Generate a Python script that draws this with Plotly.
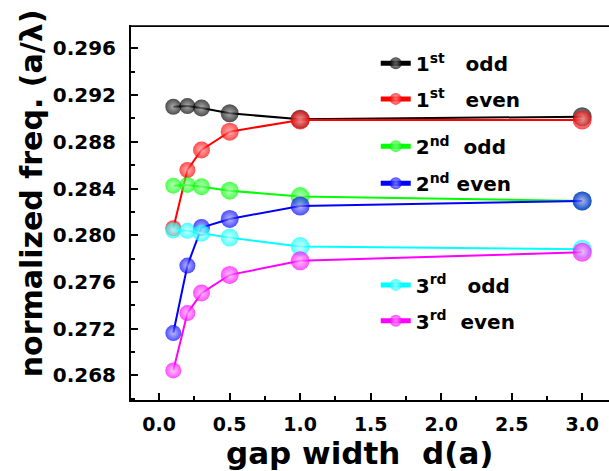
import plotly.graph_objects as go

# ---- data ----
gap_width = [0.1, 0.2, 0.3, 0.5, 1.0, 3.0]
first_odd = [0.2910, 0.29106, 0.2909, 0.29044, 0.28993, 0.29015]
first_even = [0.2806, 0.28559, 0.2873, 0.28887, 0.28987, 0.28987]
second_odd = [0.28425, 0.28431, 0.28416, 0.28382, 0.28331, 0.28294]
second_even = [0.27163, 0.27741, 0.28066, 0.2814, 0.28251, 0.28294]
third_odd = [0.2804, 0.28038, 0.28018, 0.2798, 0.27903, 0.27881]
third_even = [0.26843, 0.27334, 0.27505, 0.27661, 0.27781, 0.27855]

series_names = [
    "1<sup>st</sup>\u00a0\u00a0\u00a0odd",
    "1<sup>st</sup>\u00a0\u00a0\u00a0even",
    "2<sup>nd</sup>\u00a0\u00a0odd",
    "2<sup>nd</sup>\u00a0even",
    "3<sup>rd</sup>\u00a0\u00a0\u00a0odd",
    "3<sup>rd</sup>\u00a0\u00a0even",
]
series_values = [first_odd, first_even, second_odd, second_even, third_odd, third_even]

x_tick_values = [0.0, 0.5, 1.0, 1.5, 2.0, 2.5, 3.0]
y_tick_values = [0.268, 0.272, 0.276, 0.280, 0.284, 0.288, 0.292, 0.296]

# ---- styles ----
colors = ["#000000", "#FF0000", "#00FF00", "#0000FF", "#00FFFF", "#FF00FF"]
highlight = ["#8a8a8a", "#ff9a9a", "#a0ffa0", "#a0a0ff", "#c8ffff", "#ffb0ff"]
marker_sizes = [16, 16, 17, 18, 19, 19]
legend_y = [0.898, 0.803, 0.677, 0.578, 0.307, 0.2115]
FONT = "DejaVu Sans"

fig = go.Figure()
for i, (name, vals) in enumerate(zip(series_names, series_values)):
    lg = "legend" if i == 0 else f"legend{i+1}"
    fig.add_trace(go.Scatter(
        x=gap_width, y=vals, name=name, mode="lines+markers",
        line=dict(color=colors[i], width=2),
        marker=dict(color=colors[i], size=marker_sizes, line=dict(width=0),
                    gradient=dict(type="radial", color=highlight[i])),
        legend=lg,
    ))

legend_common = dict(
    xanchor="left", yanchor="middle", x=0.512,
    bgcolor="rgba(0,0,0,0)", borderwidth=0, itemsizing="constant",
    font=dict(family=FONT, size=20, color="black", weight="bold"),
)
layout_legends = {}
for i, ly in enumerate(legend_y):
    key = "legend" if i == 0 else f"legend{i+1}"
    layout_legends[key] = dict(legend_common, y=ly)

fig.update_layout(
    width=609, height=471,
    margin=dict(l=131, r=0, t=25, b=71),
    paper_bgcolor="white", plot_bgcolor="white",
    showlegend=True,
    font=dict(family=FONT, color="black", weight="bold"),
    **layout_legends,
)

fig.update_xaxes(
    range=[-0.2, 3.19], tickvals=x_tick_values, tickformat=".1f",
    showgrid=False, zeroline=False,
    showline=True, linecolor="black", linewidth=2, mirror=False,
    ticks="inside", ticklen=7, tickwidth=1.5, tickcolor="black",
    minor=dict(ticks="inside", ticklen=4, tickwidth=1.5, tickcolor="black", dtick=0.25, tick0=0),
    tickfont=dict(family=FONT, size=19, color="black", weight="bold"),
    ticklabelstandoff=6,
)
fig.update_yaxes(
    range=[0.2659, 0.2980], tickvals=y_tick_values, tickformat=".3f",
    showgrid=False, zeroline=False,
    showline=True, linecolor="black", linewidth=2, mirror=False,
    ticks="inside", ticklen=7, tickwidth=1.5, tickcolor="black",
    minor=dict(ticks="inside", ticklen=4, tickwidth=1.5, tickcolor="black", dtick=0.002, tick0=0.268),
    tickfont=dict(family=FONT, size=20, color="black", weight="bold"),
    ticklabelstandoff=9,
)

# top frame line of the plot box (slightly inside so it is not lost at the edge)
fig.add_shape(type="line", xref="paper", yref="paper", x0=0, x1=1, y0=0.997, y1=0.997,
              line=dict(color="black", width=1.8), layer="above")

fig.add_annotation(
    text="normalized freq. (a/\u03bb)", xref="paper", yref="paper",
    x=-0.208, y=0.55, xanchor="center", yanchor="middle", textangle=-90,
    showarrow=False, font=dict(family=FONT, size=30, color="black", weight="bold"),
)
fig.add_annotation(
    text="gap width\u00a0\u00a0d(a)", xref="paper", yref="paper",
    x=0.479, y=-0.088, xanchor="center", yanchor="top",
    showarrow=False, font=dict(family=FONT, size=31, color="black", weight="bold"),
)

fig.write_html(
    "out.html",
    config={"displayModeBar": False},
    post_script="document.body.style.margin='0';document.body.style.padding='0';document.body.style.overflow='hidden';",
)
